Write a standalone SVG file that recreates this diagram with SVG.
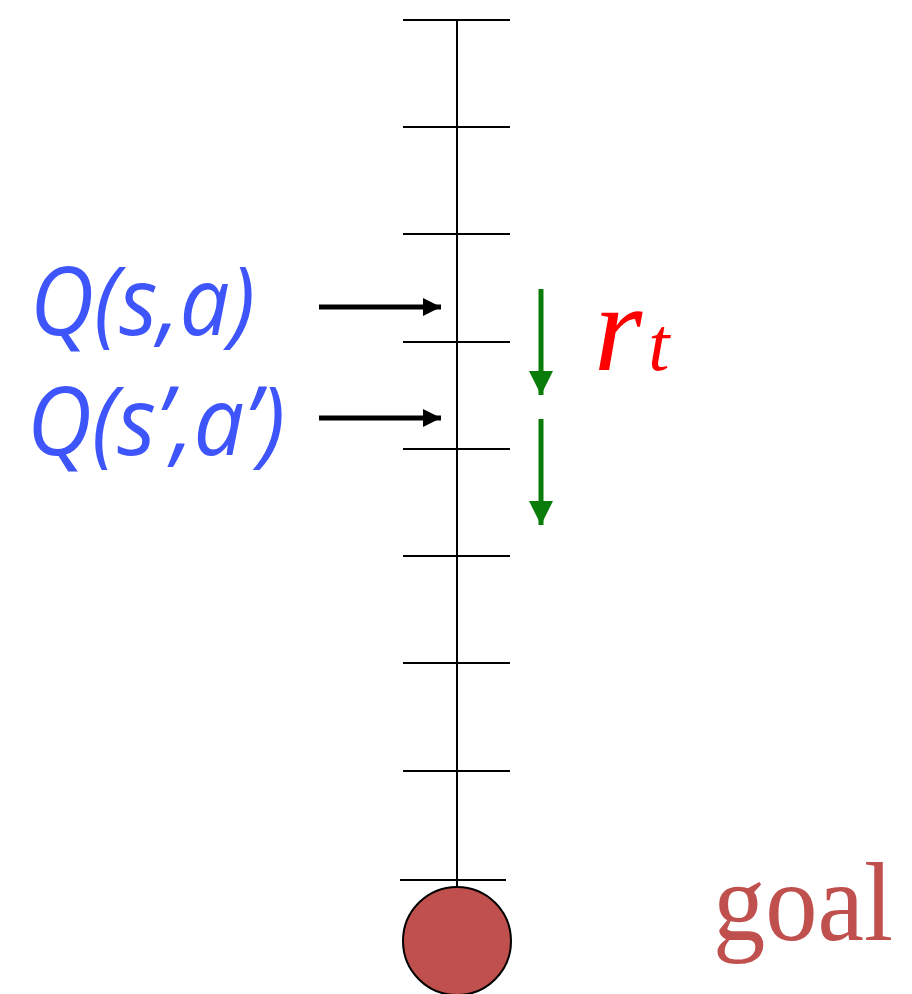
<svg xmlns="http://www.w3.org/2000/svg" width="912" height="994" viewBox="0 0 912 994">
<defs>
<style>
.tick{stroke:#000;stroke-width:2}
.q{font-family:"Open Sans","Noto Sans",sans-serif;font-style:italic;fill:#3d55fb;font-size:96px}
</style>
<marker id="ab" viewBox="0 0 18 18" refX="18" refY="9" markerWidth="18" markerHeight="18" orient="auto" markerUnits="userSpaceOnUse"><path d="M0,0 L18,9 L0,18 Z" fill="#000"/></marker>
<marker id="ag" viewBox="0 0 24 24" refX="24" refY="12" markerWidth="24" markerHeight="24" orient="auto" markerUnits="userSpaceOnUse"><path d="M0,0 L24,12 L0,24 Z" fill="#0a7c0a"/></marker>
</defs>
<rect width="912" height="994" fill="#fff"/>
<g id="scale">
<line x1="457" y1="20" x2="457" y2="888" stroke="#000" stroke-width="2"/>
<line class="tick" x1="403" y1="20" x2="510" y2="20"/>
<line class="tick" x1="403" y1="127" x2="510" y2="127"/>
<line class="tick" x1="403" y1="234" x2="510" y2="234"/>
<line class="tick" x1="403" y1="342" x2="510" y2="342"/>
<line class="tick" x1="403" y1="449" x2="510" y2="449"/>
<line class="tick" x1="403" y1="556" x2="510" y2="556"/>
<line class="tick" x1="403" y1="663" x2="510" y2="663"/>
<line class="tick" x1="403" y1="771" x2="510" y2="771"/>
<line class="tick" x1="400" y1="880" x2="506" y2="880"/>
</g>
<g id="goal">
<circle cx="457" cy="941" r="54" fill="#c0504d" stroke="#000" stroke-width="2"/>
<text x="713" y="940" font-family="Liberation Serif, serif" font-size="112" fill="#c0504d" textLength="180" lengthAdjust="spacingAndGlyphs">goal</text>
</g>
<g id="labels">
<text class="q" x="30" y="335" textLength="225" lengthAdjust="spacingAndGlyphs">Q(s,a)</text>
<text class="q" x="27" y="455" textLength="258" lengthAdjust="spacingAndGlyphs">Q(s’,a’)</text>
<text x="594" y="370" font-family="Liberation Serif, serif" font-style="italic" font-size="124" fill="#ff0000">r<tspan font-size="76" dx="6">t</tspan></text>
</g>
<g id="connectors">
<line x1="319" y1="307" x2="441" y2="307" stroke="#000" stroke-width="5" marker-end="url(#ab)"/>
<line x1="319" y1="418" x2="441" y2="418" stroke="#000" stroke-width="5" marker-end="url(#ab)"/>
<line x1="541" y1="289" x2="541" y2="395" stroke="#0a7c0a" stroke-width="5" marker-end="url(#ag)"/>
<line x1="541" y1="419" x2="541" y2="525" stroke="#0a7c0a" stroke-width="5" marker-end="url(#ag)"/>
</g>
</svg>
